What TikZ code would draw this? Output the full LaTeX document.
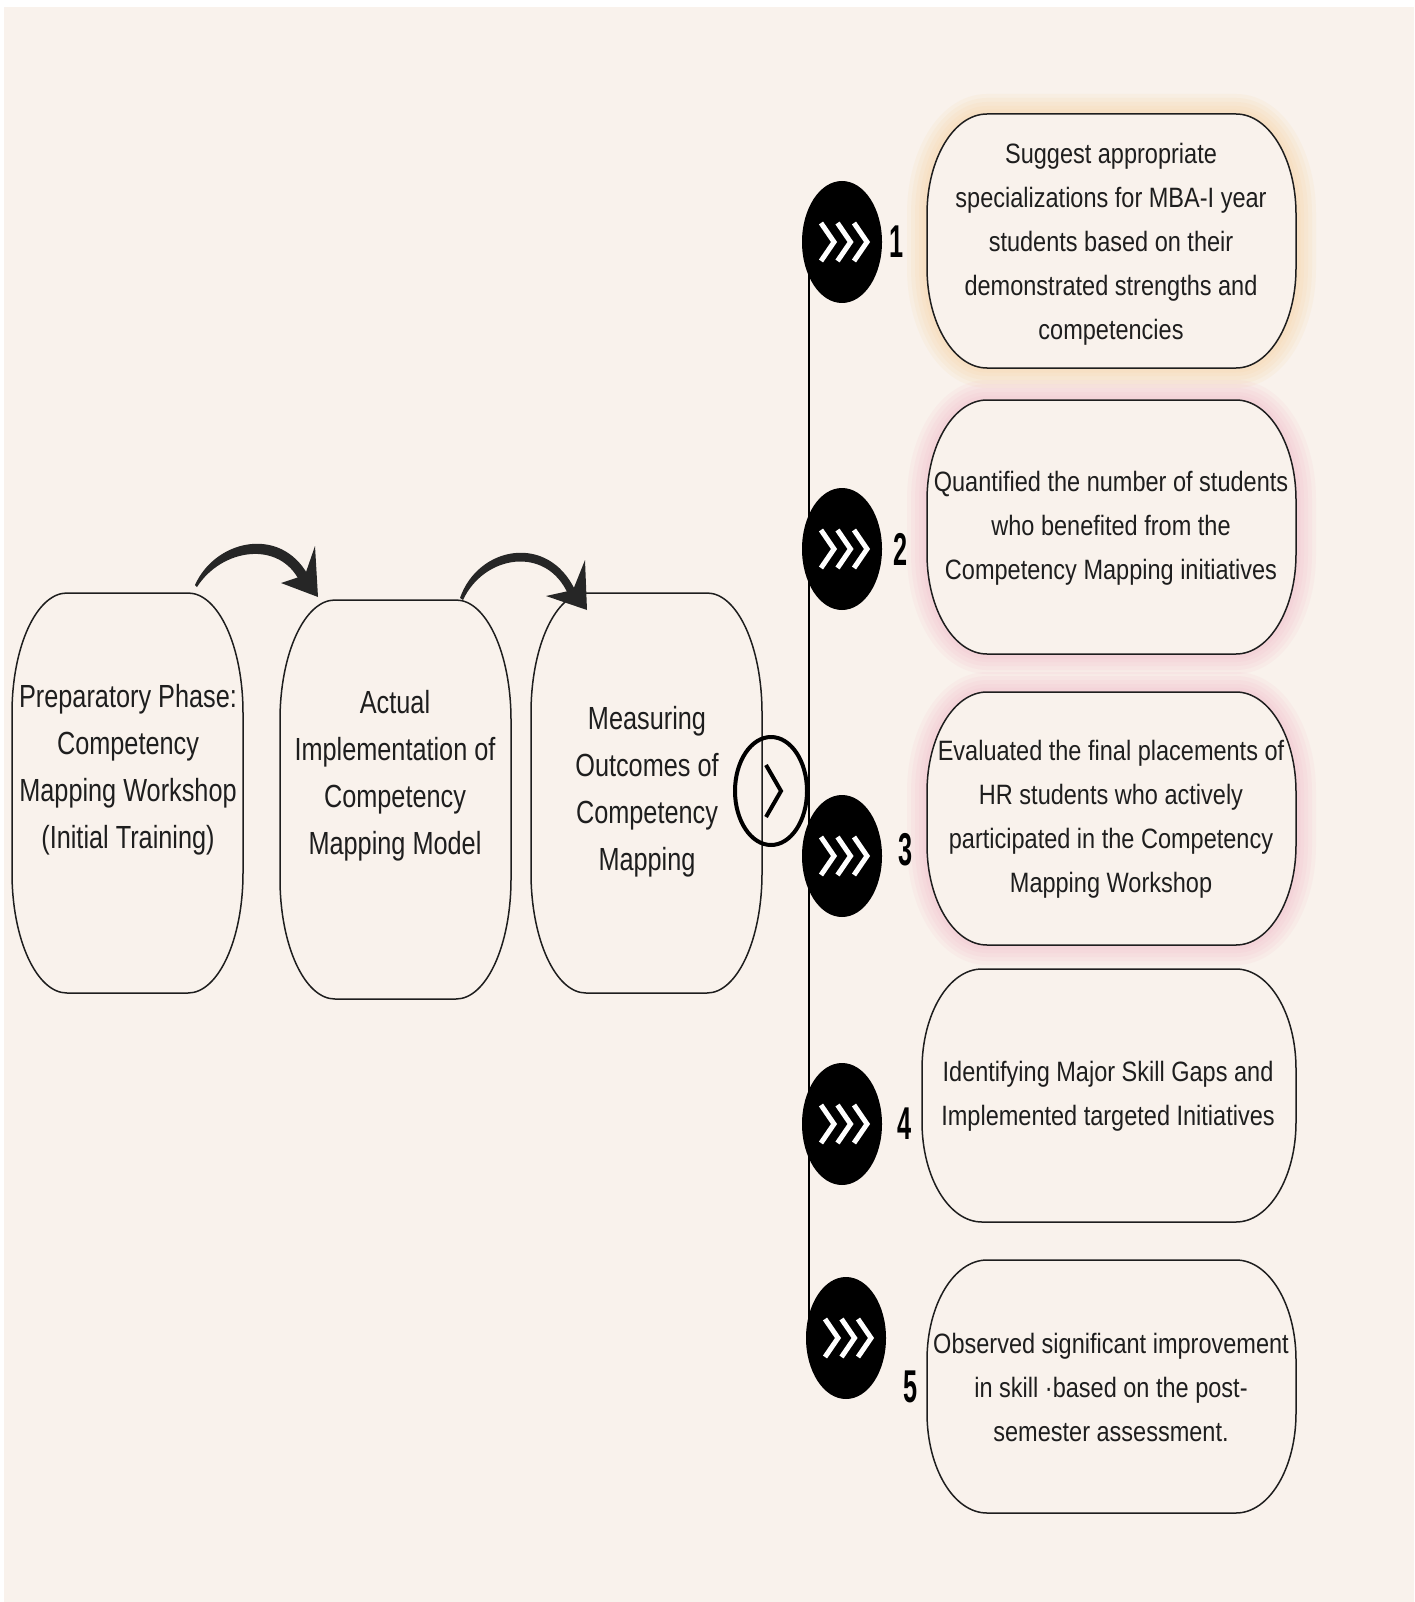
\documentclass[tikz,border=0pt]{standalone}
\usepackage{fontspec}
\usetikzlibrary{shapes.geometric}
\newfontfamily\leftfont[FakeStretch=0.79]{Liberation Sans}
\newfontfamily\rightfont[FakeStretch=0.84]{Liberation Sans}
\newfontfamily\numfont[FakeStretch=0.55]{Liberation Sans}
\definecolor{bgc}{RGB}{249,242,236}
\definecolor{inkc}{RGB}{30,30,30}
\definecolor{glowo}{RGB}{247,206,150}
\definecolor{glowp}{RGB}{242,180,198}
\newcommand\ebox[4]{%
  \path[#4] ([xshift=#2pt]#1.north west) -- ([xshift=-#2pt]#1.north east)
    arc[start angle=90,end angle=0,x radius=#2,y radius=#3]
    -- ([yshift=#3pt]#1.south east)
    arc[start angle=0,end angle=-90,x radius=#2,y radius=#3]
    -- ([xshift=#2pt]#1.south west)
    arc[start angle=-90,end angle=-180,x radius=#2,y radius=#3]
    -- ([yshift=-#3pt]#1.north west)
    arc[start angle=180,end angle=90,x radius=#2,y radius=#3] -- cycle;}
\newcommand\glow[2]{% node, colour
  \foreach \w in {40,32,24,16,9}{
    \ebox{#1}{60}{100}{draw=#2, line width=\w pt, opacity=0.11}}}
\newcommand\chev[2]{% centre x, centre y
  \foreach \k in {0,1,2}{
    \draw[chevline] ({#1-22+16.5*\k},{#2+19}) -- ({#1-9+16.5*\k},{#2}) -- ({#1-22+16.5*\k},{#2-19});}}
\begin{document}
\begin{tikzpicture}[x=1pt,y=1pt,
  frame/.style={minimum width=#1, inner sep=0pt, outer sep=0pt, draw=none},
  boxline/.style={draw=inkc, line width=1.5pt, fill=bgc},
  lefttext/.style={align=center, text=inkc, font=\fontsize{32}{47}\selectfont\leftfont},
  righttext/.style={align=center, text=inkc, font=\fontsize{28}{44}\selectfont\rightfont},
  numtext/.style={text=black, font=\fontsize{46}{46}\selectfont\numfont\bfseries},
  dot/.style={ellipse, fill=black, minimum width=80pt, minimum height=122pt, inner sep=0pt},
  chevline/.style={draw=white, line width=5pt, miter limit=10},
  arrowfill/.style={fill=black!85}
]
\useasboundingbox (0,0) rectangle (1414,-1602);
\fill[white] (0,0) rectangle (1414,-1602);
\fill[bgc] (4,-7) rectangle (1414,-1602);

% left boxes
\node[frame=231pt, minimum height=400pt] (A) at (127.5,-793) {};
\node[frame=231pt, minimum height=399pt] (B) at (395.5,-799.5) {};
\node[frame=231pt, minimum height=400pt] (C) at (646.5,-793) {};
\ebox{A}{55}{120}{boxline}
\ebox{B}{55}{120}{boxline}
\ebox{C}{55}{120}{boxline}
\node[lefttext] (At) at (128,-770) {Preparatory Phase:\\Competency\\Mapping Workshop\\(Initial Training)};
\node[lefttext] (Bt) at (395,-776) {Actual\\Implementation of\\Competency\\Mapping Model};
\node[lefttext] (Ct) at (647,-792) {Measuring\\Outcomes of\\Competency\\Mapping};

% curved arrows
\coordinate (a1s) at (195,-585);
\coordinate (a1t) at (318,-597);
\coordinate (a2s) at (460,-598);
\coordinate (a2t) at (587,-610);
\fill[arrowfill] (a1s) .. controls (215,-540) and (280,-525) .. (308,-575)
  -- (300,-582) .. controls (280,-540) and (222,-548) .. (197,-587) -- cycle;
\fill[arrowfill] (a1t) -- (315,-546) -- (305,-575) -- (281,-583) -- cycle;
\fill[arrowfill] (a2s) .. controls (478,-546) and (548,-533) .. (575,-590)
  -- (568,-594) .. controls (546,-545) and (484,-555) .. (463,-600) -- cycle;
\fill[arrowfill] (a2t) -- (585,-560) -- (573,-590) -- (546,-596) -- cycle;

% outlined chevron circle
\node[ellipse, draw=black, line width=4pt, minimum width=72pt, minimum height=108pt, inner sep=0pt] (go) at (771,-791) {};
\draw[line width=4pt, black] (766,-765) -- (781,-791) -- (766,-817);

% right boxes
\node[frame=369pt, minimum height=254pt] (R1) at (1111.5,-241) {};
\node[frame=369pt, minimum height=254pt] (R2) at (1111.5,-527) {};
\node[frame=369pt, minimum height=253pt] (R3) at (1111.5,-818.5) {};
\node[frame=374pt, minimum height=253pt] (R4) at (1109,-1095.5) {};
\node[frame=369pt, minimum height=253pt] (R5) at (1111.5,-1386.5) {};
\glow{R1}{glowo}
\glow{R2}{glowp}
\glow{R3}{glowp}
\ebox{R1}{60}{100}{boxline}
\ebox{R2}{60}{100}{boxline}
\ebox{R3}{60}{100}{boxline}
\ebox{R4}{60}{100}{boxline}
\ebox{R5}{60}{100}{boxline}
\node[righttext] (R1t) at (1111,-244) {Suggest appropriate\\specializations for MBA-I year\\students based on their\\demonstrated strengths and\\competencies};
\node[righttext] (R2t) at (1111,-528) {Quantified the number of students\\who benefited from the\\Competency Mapping initiatives};
\node[righttext] (R3t) at (1111,-819) {Evaluated the final placements of\\HR students who actively\\participated in the Competency\\Mapping Workshop};
\node[righttext] (R4t) at (1108,-1096) {Identifying Major Skill Gaps and\\Implemented targeted Initiatives};
\node[righttext] (R5t) at (1111,-1387) {Observed significant improvement\\in skill ·based on the post-\\semester assessment.};

% timeline
\coordinate (L1) at (809,-242);
\coordinate (L5) at (809,-1338);
\draw[black, line width=2.5pt] (L1) -- (L5);
\node[dot] (D1) at (842,-242) {};
\node[dot] (D2) at (842,-549) {};
\node[dot] (D3) at (842,-856) {};
\node[dot] (D4) at (842,-1124) {};
\node[dot] (D5) at (846,-1338) {};
\chev{843}{-242}
\chev{843}{-549}
\chev{843}{-856}
\chev{843}{-1124}
\chev{847}{-1338}
\node[numtext] (N1) at (897,-242) {1};
\node[numtext] (N2) at (901,-549) {2};
\node[numtext] (N3) at (906,-850) {3};
\node[numtext] (N4) at (905,-1124) {4};
\node[numtext] (N5) at (911,-1387) {5};
\end{tikzpicture}
\end{document}
